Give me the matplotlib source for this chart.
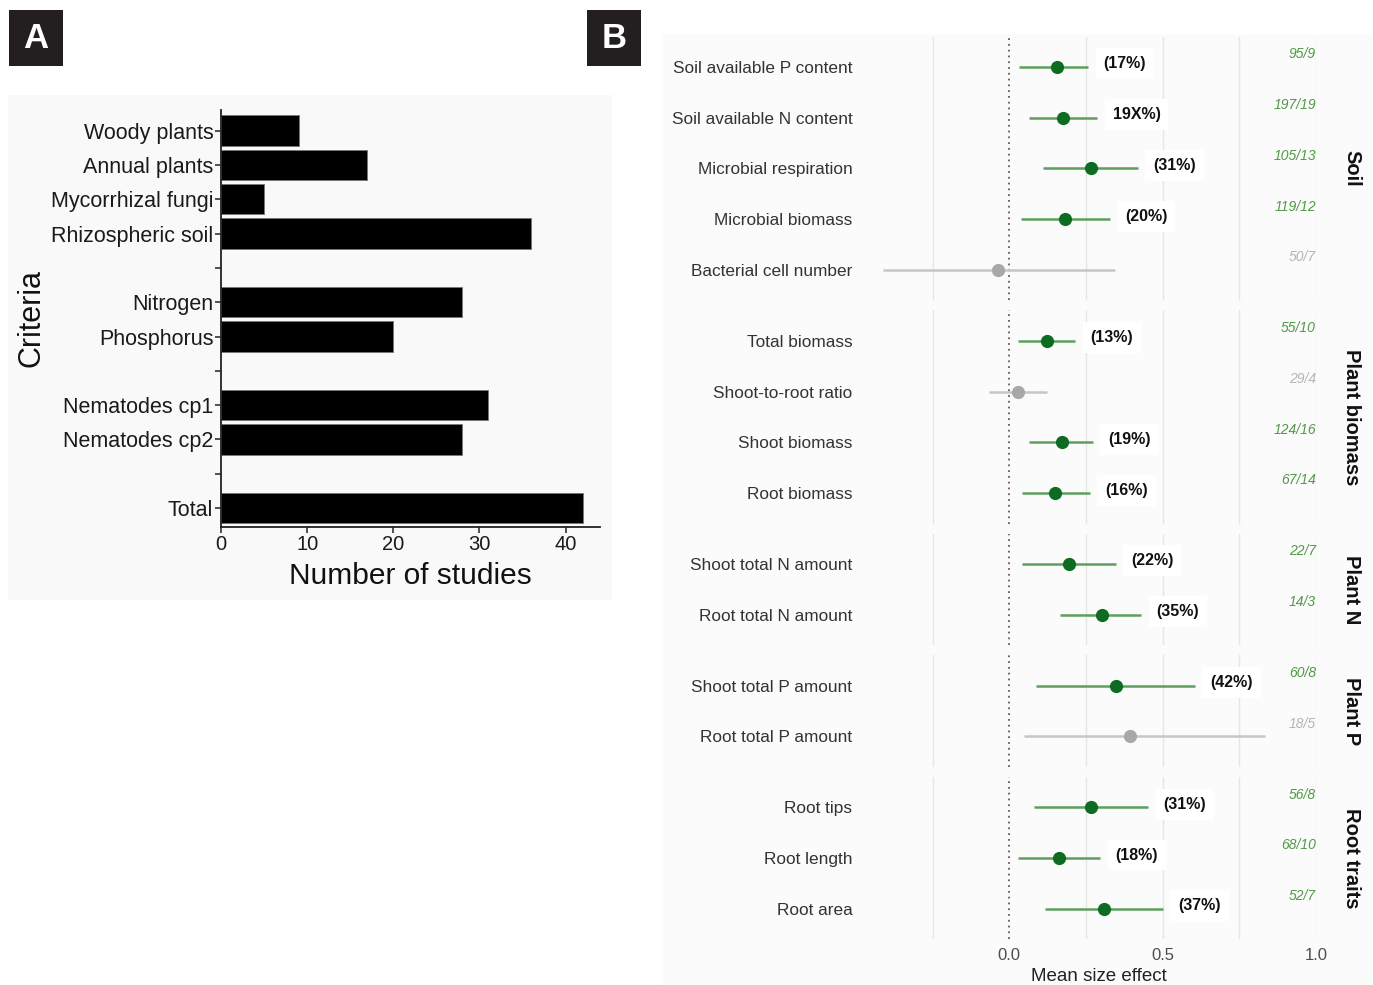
import matplotlib
matplotlib.use("Agg")
import matplotlib.pyplot as plt
from matplotlib.patches import Rectangle

plt.rcParams['font.family'] = ['Liberation Sans', 'DejaVu Sans']

# ---------------- Panel A data ----------------
a_categories = ["Woody plants", "Annual plants", "Mycorrhizal fungi", "Rhizospheric soil", "",
                "Nitrogen", "Phosphorus", "",
                "Nematodes cp1", "Nematodes cp2", "",
                "Total"]
a_values = [9, 17, 5, 36, None, 28, 20, None, 31, 28, None, 42]
a_xticks = [0, 10, 20, 30, 40]

# ---------------- Panel B data ----------------
b_groups = ["Soil", "Plant biomass", "Plant N", "Plant P", "Root traits"]
b_group_of = (["Soil"] * 5 + ["Plant biomass"] * 4 + ["Plant N"] * 2 +
              ["Plant P"] * 2 + ["Root traits"] * 3)
b_variables = ["Soil available P content", "Soil available N content", "Microbial respiration",
               "Microbial biomass", "Bacterial cell number",
               "Total biomass", "Shoot-to-root ratio", "Shoot biomass", "Root biomass",
               "Shoot total N amount", "Root total N amount",
               "Shoot total P amount", "Root total P amount",
               "Root tips", "Root length", "Root area"]
b_mean = [0.155, 0.174, 0.268, 0.181, -0.037,
          0.122, 0.028, 0.171, 0.150,
          0.194, 0.301,
          0.349, 0.395,
          0.267, 0.163, 0.310]
b_lower = [0.033, 0.065, 0.111, 0.037, -0.412,
           0.028, -0.067, 0.065, 0.040,
           0.043, 0.166,
           0.088, 0.047,
           0.080, 0.028, 0.117]
b_upper = [0.258, 0.287, 0.419, 0.327, 0.346,
           0.215, 0.122, 0.273, 0.263,
           0.347, 0.430,
           0.605, 0.834,
           0.453, 0.297, 0.501]
b_pct = ["(17%)", "19X%)", "(31%)", "(20%)", "",
         "(13%)", "", "(19%)", "(16%)",
         "(22%)", "(35%)",
         "(42%)", "",
         "(31%)", "(18%)", "(37%)"]
b_n = ["95/9", "197/19", "105/13", "119/12", "50/7",
       "55/10", "29/4", "124/16", "67/14",
       "22/7", "14/3",
       "60/8", "18/5",
       "56/8", "68/10", "52/7"]
b_signif = [True, True, True, True, False,
            True, False, True, True,
            True, True,
            True, False,
            True, True, True]
b_xticks = [0.0, 0.5, 1.0]
b_xtick_labels = ["0.0", "0.5", "1.0"]
b_grid = [-0.25, 0.25, 0.5, 0.75, 1.0]

# ---------------- figure ----------------
W, H = 1373, 985
fig = plt.figure(figsize=(W / 100, H / 100), dpi=100)
fig.patch.set_facecolor("white")


def px_axes(l, t, r, b):
    return fig.add_axes([l / W, 1 - b / H, (r - l) / W, (b - t) / H])


def px_rect(l, t, r, b, color, z=0):
    fig.add_artist(Rectangle((l / W, 1 - b / H), (r - l) / W, (b - t) / H,
                             transform=fig.transFigure, color=color, zorder=z, lw=0))


# backgrounds
px_rect(8, 95, 612, 600, "#f9f9f9", z=-10)
px_rect(662, 34, 1372, 985, "#fbfbfb", z=-10)

# panel letters
for letter, l in (("A", 9), ("B", 587)):
    px_rect(l, 10, l + 54, 66, "#231f20", z=5)
    fig.text((l + 27) / W, 1 - 38 / H, letter, color="white", fontsize=25,
             fontweight="bold", ha="center", va="center", zorder=6)

# ---------------- Panel A ----------------
axA = px_axes(221, 110, 600, 527)
axA.set_facecolor("none")
ys = list(range(len(a_categories)))
for y, v in zip(ys, a_values):
    if v is not None:
        axA.barh(y, v, height=0.88, color="black", edgecolor="#777777", linewidth=0.6)
axA.set_ylim(len(a_categories) - 0.45, -0.6)
axA.set_xlim(0, 44)
axA.set_yticks(ys)
axA.set_yticklabels(a_categories, fontsize=15.5, color="#1a1a1a")
axA.set_xticks(a_xticks)
axA.set_xticklabels([str(t) for t in a_xticks], fontsize=14.5, color="#1a1a1a")
for s in ("top", "right"):
    axA.spines[s].set_visible(False)
for s in ("left", "bottom"):
    axA.spines[s].set_linewidth(1.3)
    axA.spines[s].set_color("#222222")
axA.tick_params(axis="both", length=4, width=1.1, color="#222222", pad=1.5)
axA.set_xlabel("Number of studies", fontsize=21.5, color="#111111", labelpad=6)
axA.set_ylabel("Criteria", fontsize=22, color="#111111", labelpad=3)

# ---------------- Panel B ----------------
row_h = 50.75
gap = 10.0
top = 36.5
left_px, right_px = 862, 1316
xlim = (-0.48, 1.0)

green_pt = "#0d6b22"
green_line = "#5d9f5d"
green_txt = "#4f9a45"
grey_pt = "#a8a8a8"
grey_line = "#c6c6c6"
grey_txt = "#b5b5b5"

n_groups = len(b_groups)
for gi, g in enumerate(b_groups):
    members = [i for i, gg in enumerate(b_group_of) if gg == g]
    k = len(members)
    h = (k + 0.2) * row_h
    ax = px_axes(left_px, top, right_px, top + h)
    top += h + gap
    ax.set_facecolor("none")
    ax.set_xlim(*xlim)
    ax.set_ylim(k - 0.4, -0.6)
    for s in ax.spines.values():
        s.set_visible(False)
    for gx in b_grid:
        ax.axvline(gx, color="#e6e6e6", lw=1.0, zorder=0)
    ax.axvline(0, color="#6e5656", lw=1.3, ls=(0, (1, 2.2)), zorder=1)
    for j, i in enumerate(members):
        sig = b_signif[i]
        ax.plot([b_lower[i], b_upper[i]], [j, j], color=green_line if sig else grey_line,
                lw=1.8, solid_capstyle="butt", zorder=2)
        ax.plot(b_mean[i], j, "o", color=green_pt if sig else grey_pt, ms=9.5,
                mec="none", zorder=3)
        if b_pct[i]:
            ax.text(b_upper[i] + 0.05, j - 0.06, b_pct[i], fontsize=11.5,
                    fontweight="bold", color="#111111", ha="left", va="center",
                    bbox=dict(boxstyle="square,pad=0.5", fc="white", ec="none"),
                    zorder=4)
        ax.text(1.0, j - 0.25, b_n[i], fontsize=10, style="italic",
                color=green_txt if sig else grey_txt, ha="right", va="center", zorder=4)
    ax.set_yticks(range(k))
    ax.set_yticklabels([b_variables[i] for i in members], fontsize=12.4, color="#333333")
    ax.tick_params(axis="y", length=0, pad=7)
    ax.text((1352 - left_px) / (right_px - left_px), 0.5, g, transform=ax.transAxes,
            rotation=-90, fontsize=14.5, fontweight="bold", color="#111111",
            ha="center", va="center")
    if gi == n_groups - 1:
        ax.set_xticks(b_xticks)
        ax.set_xticklabels(b_xtick_labels, fontsize=12, color="#4d4d4d")
        ax.tick_params(axis="x", length=0, pad=6)
        ax.set_xlabel("Mean size effect", fontsize=13.5, color="#222222")
        ax.xaxis.set_label_coords((1099 - left_px) / (right_px - left_px), -0.175)
    else:
        ax.set_xticks([])

fig.savefig("out.png", dpi=100, facecolor=fig.get_facecolor())
